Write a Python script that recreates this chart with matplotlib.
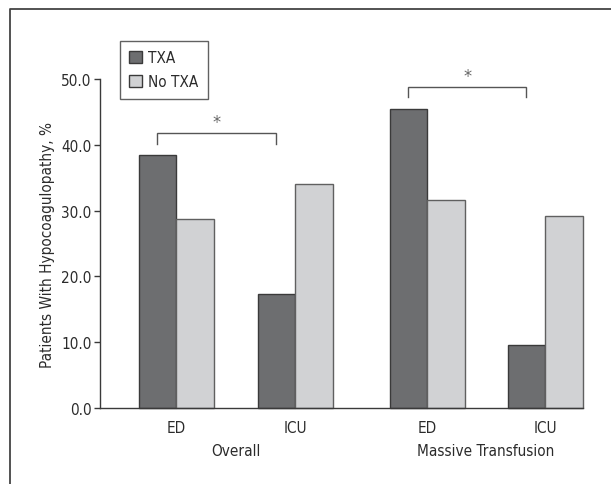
import matplotlib
matplotlib.use("Agg")
import matplotlib.pyplot as plt
from matplotlib.patches import Patch
from matplotlib.lines import Line2D

plt.rcParams['font.family'] = ['DejaVu Sans']
plt.rcParams['font.stretch'] = 'condensed'

groups = ["Overall", "Massive Transfusion"]
categories = ["ED", "ICU", "ED", "ICU"]
txa = [38.5, 17.4, 45.4, 9.5]
no_txa = [28.7, 34.0, 31.6, 29.2]
series_names = ["TXA", "No TXA"]
y_ticks = [0, 10, 20, 30, 40, 50]

dark = "#6d6e70"
light = "#d1d2d4"
edge = "#3a3a3a"
text_c = "#2b2b2b"
fs = 11

W, H = 611, 485
fig = plt.figure(figsize=(W / 100, H / 100), dpi=100)
ax = fig.add_axes([100 / W, 76 / H, 483 / W, 329 / H])

# bar width = 1 unit, centers of each category pair
centers = [2.03, 5.2, 8.72, 11.87]
bw = 1.0
for i, c in enumerate(centers):
    ax.bar(c - bw / 2, txa[i], width=bw, color=dark, edgecolor=edge, linewidth=1.0, clip_on=False)
    ax.bar(c + bw / 2, no_txa[i], width=bw, color=light, edgecolor="#606060", linewidth=1.0, clip_on=False)

ax.set_xlim(0, 12.88)
ax.set_ylim(0, 50)
ax.set_yticks(y_ticks)
ax.set_yticklabels(["%.1f" % v for v in y_ticks])
ax.set_xticks(centers)
ax.set_xticklabels(categories)
ax.tick_params(axis='x', length=0, pad=9, labelsize=fs, labelcolor=text_c)
ax.tick_params(axis='y', length=4, width=1, pad=2, labelsize=fs, labelcolor=text_c, color=edge)
for s in ["top", "right"]:
    ax.spines[s].set_visible(False)
for s in ["left", "bottom"]:
    ax.spines[s].set_color(edge)
    ax.spines[s].set_linewidth(1.0)

ax.set_ylabel("Patients With Hypocoagulopathy, %", fontsize=fs, color=text_c, labelpad=4.5)

# group labels
for j, g in enumerate(groups):
    gx = (centers[2 * j] + centers[2 * j + 1]) / 2
    ax.text(gx, -6.5, g, ha="center", va="center", fontsize=fs, color=text_c)

# significance brackets over TXA bars
brackets = [(centers[0] - bw / 2, centers[1] - bw / 2, 40.1, 41.8),
            (centers[2] - bw / 2, centers[3] - bw / 2, 47.3, 48.8)]
for x0, x1, ylo, yhi in brackets:
    ax.plot([x0, x0, x1, x1], [ylo, yhi, yhi, ylo], color="#555555", lw=1.0,
            clip_on=False, solid_joinstyle="miter")
    ax.text((x0 + x1) / 2, yhi + 1.7, "*", ha="center", va="center",
            fontsize=13, color="#666666")

handles = [Patch(facecolor=dark, edgecolor=edge, lw=1.0),
           Patch(facecolor=light, edgecolor=edge, lw=1.0)]
leg = fig.legend(handles, series_names, loc="upper left",
                 bbox_to_anchor=(120 / W, 1 - 42 / H), frameon=True, fancybox=False,
                 fontsize=fs, handlelength=0.85, handleheight=0.85, handletextpad=0.4,
                 borderpad=0.6, labelspacing=0.6, borderaxespad=0)
leg.get_frame().set_edgecolor(edge)
leg.get_frame().set_linewidth(1.0)
for t in leg.get_texts():
    t.set_color(text_c)

# outer frame (cut off at right and bottom)
fig.add_artist(Line2D([9.5 / W, 9.5 / W, 1.0], [0.0, 1 - 10 / H, 1 - 10 / H],
                      transform=fig.transFigure, color="#444444", lw=1.3))

fig.savefig("out.png", dpi=100)
